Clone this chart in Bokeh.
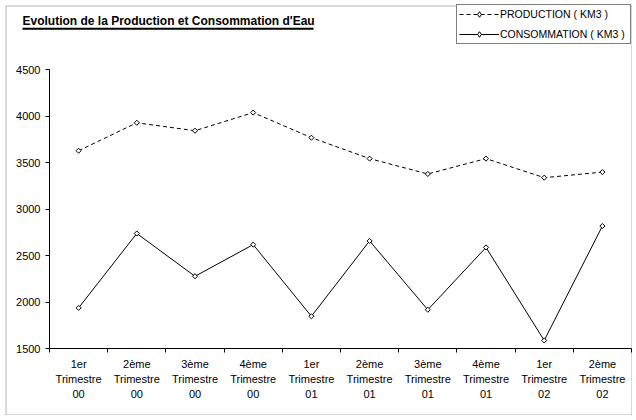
from bokeh.plotting import figure
from bokeh.models import Range1d, FixedTicker, BoxAnnotation, Legend, LegendItem, Label
from bokeh.embed import file_html
from bokeh.resources import INLINE

categories = ["1er\nTrimestre\n00", "2ème\nTrimestre\n00", "3ème\nTrimestre\n00", "4ème\nTrimestre\n00",
              "1er\nTrimestre\n01", "2ème\nTrimestre\n01", "3ème\nTrimestre\n01", "4ème\nTrimestre\n01",
              "1er\nTrimestre\n02", "2ème\nTrimestre\n02"]
production = [3630, 3930, 3845, 4040, 3770, 3545, 3380, 3545, 3340, 3400]
consommation = [1940, 2740, 2280, 2620, 1850, 2660, 1920, 2590, 1590, 2820]
y_ticks = [1500, 2000, 2500, 3000, 3500, 4000, 4500]
title_text = "Evolution de la Production et Consommation d'Eau"
legend_labels = ["PRODUCTION ( KM3 )", "CONSOMMATION ( KM3 )"]

FONT = "Liberation Sans"
W, H = 632, 415

# plot area inside the canvas (pixels): left, right, top, bottom
PL, PR, PT, PB = 49.0, 631.0, 69.3, 348.3
n = len(categories)
sx = (PR - PL) / n
sy = (PB - PT) / (y_ticks[-1] - y_ticks[0])
x_range = Range1d(-PL / sx, n + (W - PR) / sx)
y_range = Range1d(y_ticks[0] - (H - PB) / sy, y_ticks[-1] + PT / sy)

xs = [i + 0.5 for i in range(n)]

p = figure(width=W, height=H, output_backend="svg", toolbar_location=None,
           x_range=x_range, y_range=y_range,
           min_border=0, min_border_left=0, min_border_right=0,
           min_border_top=0, min_border_bottom=0)
p.title.visible = False
p.outline_line_color = None
p.xgrid.visible = False
p.ygrid.visible = False
p.background_fill_color = "white"
p.border_fill_color = "white"

# y axis
ya = p.yaxis[0]
ya.fixed_location = 0
ya.bounds = (y_ticks[0], y_ticks[-1])
ya.ticker = FixedTicker(ticks=y_ticks, minor_ticks=[])
ya.major_tick_out = 4
ya.major_tick_in = 0
ya.minor_tick_out = 0
ya.minor_tick_in = 0
ya.major_label_standoff = 5
ya.major_label_text_font = FONT
ya.major_label_text_font_size = "11px"
ya.major_label_text_color = "black"
ya.axis_line_color = "black"
ya.major_tick_line_color = "black"

# x axis: labels at category centres, ticks at boundaries (minor ticks)
xa = p.xaxis[0]
xa.fixed_location = y_ticks[0]
xa.bounds = (0, n)
xa.ticker = FixedTicker(ticks=xs, minor_ticks=list(range(n + 1)))
xa.major_label_overrides = {x: c for x, c in zip(xs, categories)}
xa.major_tick_out = 0
xa.major_tick_in = 0
xa.minor_tick_out = 4
xa.minor_tick_in = 0
xa.minor_tick_line_color = "black"
xa.major_label_standoff = 5
xa.major_label_text_font = FONT
xa.major_label_text_font_size = "11px"
xa.major_label_text_color = "black"
xa.major_label_text_line_height = 1.25
xa.axis_line_color = "black"

r1 = p.line(xs, production, line_color="black", line_width=1, line_dash="4 3")
m1 = p.scatter(xs, production, marker="square", angle=0.785398, size=3.6,
               line_color="black", fill_color="white", line_width=1)
r2 = p.line(xs, consommation, line_color="black", line_width=1)
m2 = p.scatter(xs, consommation, marker="square", angle=0.785398, size=3.6,
               line_color="black", fill_color="white", line_width=1)
# diamond-shaped copies used only for the legend samples
k1 = p.scatter(xs, production, marker="diamond", size=5, line_color="black",
               fill_color="white", line_width=1, visible=False)
k2 = p.scatter(xs, consommation, marker="diamond", size=5, line_color="black",
               fill_color="white", line_width=1, visible=False)

legend = Legend(items=[LegendItem(label=legend_labels[0], renderers=[r1, k1]),
                       LegendItem(label=legend_labels[1], renderers=[r2, k2])],
                location=(456, H - 43.5), padding=2, spacing=6, margin=0,
                glyph_width=40, glyph_height=14, label_height=14, label_width=128,
                label_standoff=1, label_text_font=FONT, label_text_font_size="10.5px",
                label_text_color="black", border_line_color="black", border_line_width=1,
                background_fill_color="white", background_fill_alpha=1)
p.add_layout(legend)

# title
p.add_layout(Label(x=22, y=H - 20.5, x_units="screen", y_units="screen", text=title_text,
                   text_font=FONT, text_font_size="12px", text_font_style="bold",
                   text_color="black", text_baseline="alphabetic", text_align="left"))
# title underline
p.add_layout(BoxAnnotation(left=22, right=313, bottom=H - 29.3, top=H - 27.3,
                           left_units="screen", right_units="screen",
                           bottom_units="screen", top_units="screen",
                           fill_color="black", fill_alpha=1, line_color=None))
# outer border
p.add_layout(BoxAnnotation(left=5.5, right=631.5, bottom=0.5, top=H - 5.5,
                           left_units="screen", right_units="screen",
                           bottom_units="screen", top_units="screen",
                           fill_alpha=0, line_color="black", line_width=1))

open("out.html", "w").write(file_html(p, INLINE))
